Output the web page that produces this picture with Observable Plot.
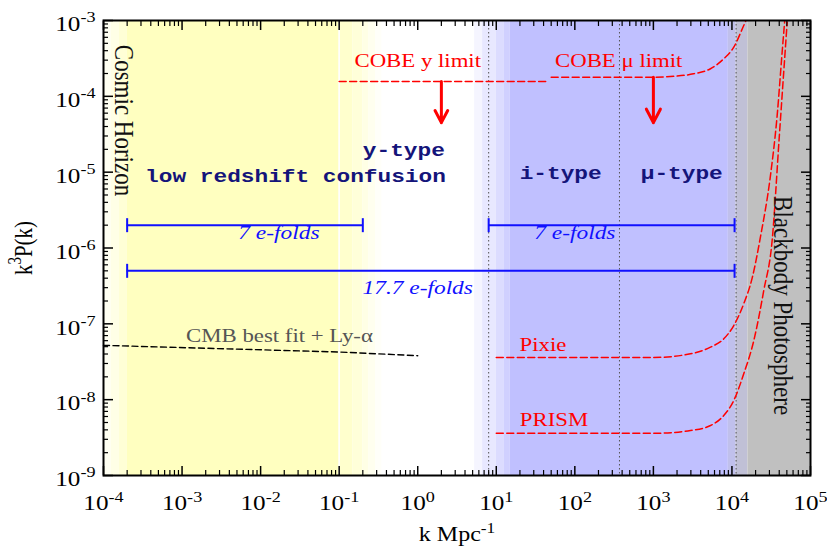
<!DOCTYPE html>
<html>
<head>
<meta charset="utf-8">
<script src="https://cdn.jsdelivr.net/npm/d3@7"></script>
<script src="https://cdn.jsdelivr.net/npm/@observablehq/plot@0.6"></script>
<style>
  html, body { margin: 0; padding: 0; background: #fff; }
  #chart { width: 827px; height: 548px; }
</style>
</head>
<body>
<div id="chart"></div>
<script>
// ---------------- data ----------------
const kDomain = [1e-4, 1e5];
const pDomain = [1e-9, 1e-3];
const xTickExps = [-4, -3, -2, -1, 0, 1, 2, 3, 4, 5];
const yTickExps = [-9, -8, -7, -6, -5, -4, -3];
const minorMultipliers = [2, 3, 4, 5, 6, 7, 8, 9];

// shaded regions (k ranges)
const yellowK1 = [1e-4, 1.25e-4, 1.6e-4, 2e-4, 0.1, 0.15, 0.2, 0.24, 0.29];
const yellowK2 = [1.25e-4, 1.6e-4, 2e-4, 0.1, 0.15, 0.2, 0.24, 0.29, 0.35];
const blueK1 = [5.3, 6.7, 10, 12.5, 15];
const blueK2 = [6.7, 10, 12.5, 15, 9000];
const grayK1 = [9000, 11300, 16000];
const grayK2 = [11300, 16000, 1e5];
const dividerK = [8, 370, 11300];
const whiteLineK = [0.1];

// limit curves
const cobeYK = [0.1, 45];
const cobeYP = [1.57e-4, 1.57e-4];
const cobeMuK = [50, 1000, 2000, 3236, 5333, 7870, 10550, 14130, 15070];
const cobeMuP = [1.79e-4, 1.79e-4, 1.85e-4, 1.98e-4, 2.31e-4, 3.13e-4, 4.45e-4, 8.6e-4, 1e-3];
const pixieK = [10, 1000, 2965, 5333, 7870, 10550, 14130, 18080, 23070, 30920, 37640, 43550, 47000];
const pixieP = [3.6e-8, 3.6e-8, 4.02e-8, 4.92e-8, 6.34e-8, 9.5e-8, 1.84e-7, 4.0e-7, 1.4e-6, 9.0e-6, 5.6e-5, 3.82e-4, 1e-3];
const prismK = [10, 1000, 2965, 5333, 7870, 10550, 14130, 18970, 25410, 32500, 40270, 50470];
const prismP = [3.6e-9, 3.6e-9, 3.92e-9, 4.56e-9, 6.18e-9, 9.75e-9, 2.19e-8, 6.0e-8, 2.75e-7, 1.26e-6, 3.2e-5, 9.5e-4];
const cmbK = [1e-4, 0.1, 1];
const cmbP = [5.2e-8, 4.25e-8, 3.8e-8];

// arrows (COBE limits)
const arrowK = [2, 1000];
const arrowFrom = [1.57e-4, 1.79e-4];
const arrowTo = [4.5e-5, 4.5e-5];

// e-fold bars
const barK1 = [2e-4, 8, 2e-4];
const barK2 = [0.2, 1.08e4, 1.08e4];
const barP = [2e-6, 2e-6, 5e-7];

// labels
const redLabelText = ["COBE y limit", "COBE \u03bc limit", "Pixie", "PRISM"];
const redLabelK = [1, 362, 39.3, 54.3];
const redLabelP = [2.9e-4, 2.9e-4, 5.3e-8, 5.4e-9];
const typeLabelText = ["y-type", "low redshift confusion", "i-type", "\u03bc-type"];
const typeLabelK = [0.665, 0.0278, 66, 2297];
const typeLabelP = [1.97e-5, 8.95e-6, 9.7e-6, 9.7e-6];
const efoldLabelText = ["7 e-folds", "7 e-folds", "17.7 e-folds"];
const efoldLabelK = [0.0171, 100, 1];
const efoldLabelP = [1.57e-6, 1.57e-6, 3.0e-7];
const cmbLabel = {text: "CMB best fit + Ly-\u03b1", k: 0.0174, p: 6.95e-8};
const sideLabelText = ["Cosmic Horizon", "Blackbody Photosphere"];
const sideLabelK = [1.83e-4, 44000];
const sideLabelP = [4.8e-5, 1.74e-7];

// ---------------- build tables ----------------
const zip = (ks, ps) => ks.map((k, i) => ({k, p: ps[i]}));
const bands = (k1, k2) => k1.map((a, i) => ({k1: a, k2: k2[i]}));
const labels = (t, k, p) => t.map((text, i) => ({text, k: k[i], p: p[i]}));

// style: shading strengths for band steps
const yellowLevel = [0.2, 0.4, 0.65, 1, 0.8, 0.6, 0.42, 0.26, 0.1];
const blueLevel = [0.16, 0.37, 0.55, 0.75, 1];
const grayLevel = [0.3, 0.65, 1];
const YELLOW = "#ffffc0", BLUE = "#c0c0ff", GRAY = "#c0c0c0";

const bandMarks = [
  ...bands(yellowK1, yellowK2).map((b, i) => Plot.rect([b], {x1: "k1", x2: "k2", fill: d3.interpolateRgb("#ffffff", YELLOW)(yellowLevel[i])})),
  ...bands(blueK1, blueK2).map((b, i) => Plot.rect([b], {x1: "k1", x2: "k2", fill: d3.interpolateRgb("#ffffff", BLUE)(blueLevel[i])})),
  ...bands(grayK1, grayK2).map((b, i) => Plot.rect([b], {x1: "k1", x2: "k2", fill: d3.interpolateRgb(BLUE, GRAY)(grayLevel[i])}))
];

const majorX = xTickExps.map(e => Math.pow(10, e));
const majorY = yTickExps.map(e => Math.pow(10, e));
const minorX = xTickExps.slice(0, -1).flatMap(e => minorMultipliers.map(m => m * Math.pow(10, e)));
const minorY = yTickExps.slice(0, -1).flatMap(e => minorMultipliers.map(m => m * Math.pow(10, e)));
const fmt = d => `10^{${Math.round(Math.log10(d))}}`;

const vbar = {draw(ctx, size) { const r = Math.sqrt(size / Math.PI); ctx.moveTo(0, -r); ctx.lineTo(0, r); }};
const bars = barK1.map((k1, i) => ({k1, k2: barK2[i], p: barP[i]}));
const barEnds = bars.flatMap(b => [{k: b.k1, p: b.p}, {k: b.k2, p: b.p}]);
const arrows = arrowK.map((k, i) => ({k, from: arrowFrom[i], to: arrowTo[i]}));

const RED = "#ff0000";
const redDash = {stroke: RED, strokeWidth: 1.5, strokeDasharray: "7,3.5", curve: "monotone-x", clip: true};

const chart = Plot.plot({
  width: 827, height: 548,
  marginLeft: 103, marginRight: 17, marginTop: 20, marginBottom: 73,
  x: {type: "log", domain: kDomain},
  y: {type: "log", domain: pDomain},
  style: {fontFamily: "'Liberation Serif', 'Times New Roman', serif", fontSize: "20px", color: "black", background: "white", overflow: "visible"},
  marks: [
    ...bandMarks,
    Plot.ruleX(whiteLineK, {stroke: "white", strokeWidth: 1.5}),
    Plot.ruleX(dividerK, {stroke: "#555", strokeWidth: 1, strokeDasharray: "1.5,2.5"}),
    Plot.line(zip(cmbK, cmbP), {x: "k", y: "p", stroke: "black", strokeWidth: 1.4, strokeDasharray: "6,3.5"}),
    Plot.line(zip(cobeYK, cobeYP), {x: "k", y: "p", ...redDash}),
    Plot.line(zip(cobeMuK, cobeMuP), {x: "k", y: "p", ...redDash}),
    Plot.line(zip(pixieK, pixieP), {x: "k", y: "p", ...redDash}),
    Plot.line(zip(prismK, prismP), {x: "k", y: "p", ...redDash}),
    Plot.arrow(arrows, {x: "k", y1: "from", y2: "to", stroke: RED, strokeWidth: 3, headLength: 15, headAngle: 55}),
    Plot.ruleY(bars, {y: "p", x1: "k1", x2: "k2", stroke: "#1010ff", strokeWidth: 2}),
    Plot.dot(barEnds, {x: "k", y: "p", symbol: vbar, r: 7, fill: "none", stroke: "#1010ff", strokeWidth: 2}),
    Plot.text(labels(redLabelText, redLabelK, redLabelP), {x: "k", y: "p", text: "text", fill: RED, fontSize: 19}),
    Plot.text([cmbLabel], {x: "k", y: "p", text: "text", fill: "#555", fontSize: 19}),
    Plot.text(labels(efoldLabelText, efoldLabelK, efoldLabelP), {x: "k", y: "p", text: "text", fill: "#1010ff", fontSize: 19.5, fontStyle: "italic"}),
    Plot.text(labels(typeLabelText, typeLabelK, typeLabelP), {x: "k", y: "p", text: "text", fill: "#14147a", fontSize: 19, fontWeight: "bold", fontFamily: "'Liberation Mono', 'Courier New', monospace"}),
    Plot.text(labels(sideLabelText, sideLabelK, sideLabelP), {x: "k", y: "p", text: "text", fill: "#111", fontSize: 23, rotate: 90}),
    // axes: ticks inward on all four sides
    Plot.axisX({anchor: "bottom", ticks: majorX, tickSize: -9, fill: "none", strokeWidth: 1.5}),
    Plot.axisX({anchor: "bottom", ticks: minorX, tickSize: -5, fill: "none", strokeWidth: 1.2}),
    Plot.axisX({anchor: "top", ticks: majorX, tickSize: -9, fill: "none", strokeWidth: 1.5}),
    Plot.axisX({anchor: "top", ticks: minorX, tickSize: -5, fill: "none", strokeWidth: 1.2}),
    Plot.axisY({anchor: "left", ticks: majorY, tickSize: -10, fill: "none", strokeWidth: 1.5}),
    Plot.axisY({anchor: "left", ticks: minorY, tickSize: -5, fill: "none", strokeWidth: 1.2}),
    Plot.axisY({anchor: "right", ticks: majorY, tickSize: -10, fill: "none", strokeWidth: 1.5}),
    Plot.axisY({anchor: "right", ticks: minorY, tickSize: -5, fill: "none", strokeWidth: 1.2}),
    Plot.axisX({anchor: "bottom", ticks: majorX, tickSize: 0, tickPadding: 20, tickFormat: fmt, fontSize: 21, label: null}),
    Plot.axisY({anchor: "left", ticks: majorY, tickSize: 0, tickPadding: 8, tickFormat: fmt, fontSize: 21, label: null, dy: 4}),
    Plot.text(["k Mpc^{-1}"], {frameAnchor: "bottom", textAnchor: "middle", lineAnchor: "middle", dy: 59, fontSize: 20}),
    Plot.text(["k^{3}P(k)"], {frameAnchor: "left", textAnchor: "middle", lineAnchor: "middle", dx: -80, rotate: -90, fontSize: 21}),
    Plot.frame({stroke: "black", strokeWidth: 2})
  ]
});
document.getElementById("chart").appendChild(chart);

// ---------------- typographic post-processing ----------------
const SX = 1.2; // horizontal stretch of the original figure's lettering
chart.querySelectorAll("text").forEach(t => {
  const s = t.textContent;
  if (s.includes("^{")) {
    const fs = parseFloat(getComputedStyle(t).fontSize) || 20;
    const rise = fs * 0.42, small = fs * 0.72;
    const parts = s.split(/\^\{|\}/);
    while (t.firstChild) t.removeChild(t.firstChild);
    parts.forEach((p, i) => {
      if (!p) return;
      const ts = document.createElementNS("http://www.w3.org/2000/svg", "tspan");
      ts.textContent = p;
      if (i % 2 === 1) { ts.setAttribute("dy", -rise); ts.setAttribute("font-size", small); }
      else if (i > 0) { ts.setAttribute("dy", rise); }
      t.appendChild(ts);
    });
  }
  const tr = t.getAttribute("transform") || "";
  if (tr.includes("translate")) {
    t.setAttribute("transform", tr + (tr.includes("rotate") ? ` scale(1,${SX})` : ` scale(${SX},1)`));
  }
});
</script>
</body>
</html>
